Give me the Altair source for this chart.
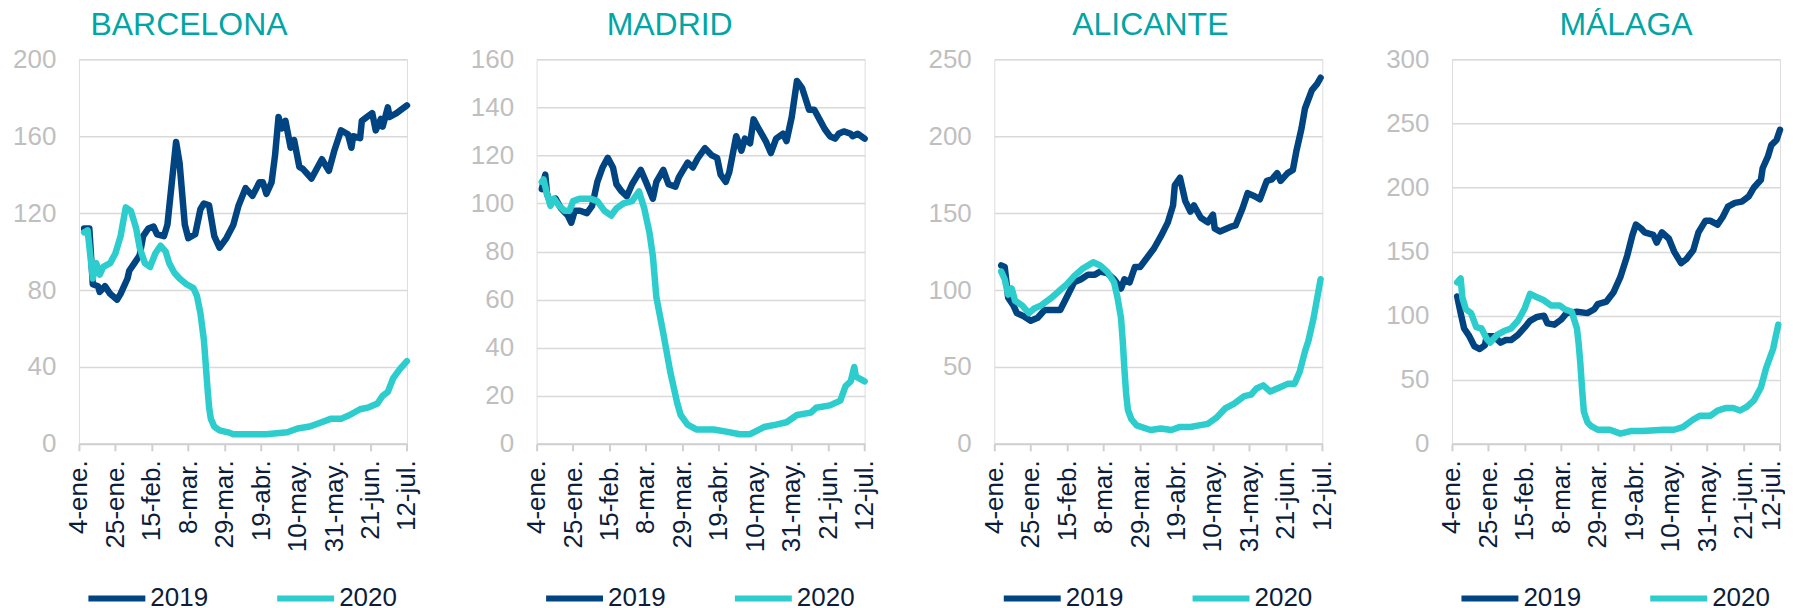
import json
import altair as alt
import pandas as pd

# ---------------- data ----------------
TICK_DAYS = [0, 21, 42, 63, 84, 105, 126, 147, 168, 189]
TICK_LABELS = ["4-ene.", "25-ene.", "15-feb.", "8-mar.", "29-mar.", "19-abr.",
               "10-may.", "31-may.", "21-jun.", "12-jul."]

CITIES = ["BARCELONA", "MADRID", "ALICANTE", "MÁLAGA"]
Y_MAX = [200, 160, 250, 300]
Y_STEP = [40, 20, 50, 50]
YEARS = ["2019", "2020"]

# (day since 4-ene., index value)
BCN_2019 = [(3,112),(6,112),(8,83),(11,82),(12,79),(15,82),(18,78),(22,75),(24,78),(28,86),(29,90),(32,94),
            (35,98),(37,108),(40,112),(43,113),(45,109),(49,108),(51,114),(54,140),(56,157),(58,146),(61,114),
            (63,107),(67,109),(70,122),(72,125),(75,124),(78,108),(81,102),(85,107),(89,114),(92,124),(96,133),
            (100,129),(104,136),(106,136),(108,130),(111,136),(113,150),(115,170),(117,164),(119,168),(122,154),
            (124,158),(127,144),(129,143),(134,138),(140,148),(144,142),(147,152),(151,163),(155,161),(157,154),
            (158,160),(162,159),(163,168),(166,170),(169,172),(171,163),(174,169),(175,165),(178,175),(179,170),
            (183,172),(189,176)]
BCN_2020 = [(3,110),(5,111),(8,86),(10,94),(12,88),(14,92),(18,94),(21,99),(24,108),(27,123),(30,121),(33,112),
            (35,102),(38,94),(41,92),(44,99),(47,103),(50,100),(52,94),(55,89),(58,86),(62,83),(66,81),(68,77),
            (70,68),(72,54),(73,42),(74,30),(75,19),(76,13),(78,9),(81,7),(86,6),(89,5),(101,5),(108,5),(120,6),
            (126,8),(133,9),(139,11),(145,13),(151,13),(156,15),(162,18),(167,19),(172,21),(175,25),(178,27),
            (181,34),(185,39),(189,43)]
MAD_2019 = [(3,106),(5,112),(6,104),(8,100),(11,102),(14,98),(18,95),(20,92),(22,97),(25,97),(29,96),(32,99),
            (35,109),(38,115),(41,119),(44,115),(46,108),(49,105),(52,103),(55,108),(60,114),(63,109),(67,102),
            (69,109),(73,114),(76,108),(80,107),(82,111),(87,117),(90,115),(93,119),(97,123),(101,120),(104,119),
            (106,112),(109,109),(111,113),(115,128),(118,122),(120,127),(123,125),(125,135),(128,131),(132,126),
            (135,121),(138,127),(142,129),(144,126),(147,136),(150,151),(153,148),(157,139),(160,139),(163,135),
            (166,131),(169,128),(172,127),(174,129),(177,130),(181,129),(182,128),(185,129),(189,127)]
MAD_2020 = [(3,109),(4,110),(6,104),(8,99),(10,102),(13,99),(16,97),(19,97),(21,101),(25,102),(31,102),(35,101),
            (39,97),(43,95),(46,98),(50,100),(55,101),(59,105),(62,98),(65,88),(67,78),(69,61),(73,46),(77,30),
            (81,17),(83,12),(87,8),(92,6),(102,6),(110,5),(117,4),(123,4),(131,7),(138,8),(144,9),(150,12),
            (158,13),(161,15),(169,16),(175,18),(178,24),(181,26),(183,32),(184,28),(189,26)]
ALI_2019 = [(4,116),(6,115),(8,95),(11,90),(13,85),(17,83),(21,80),(25,82),(29,87),(35,87),(38,87),(42,96),
            (46,105),(50,107),(54,110),(58,110),(61,112),(65,111),(69,107),(73,101),(75,107),(78,105),(81,115),
            (84,115),(88,121),(92,127),(96,135),(100,144),(103,155),(104,168),(107,173),(110,158),(113,151),
            (115,155),(119,147),(123,144),(126,149),(127,140),(130,138),(136,141),(139,142),(143,153),(146,163),
            (150,161),(153,159),(157,171),(160,172),(163,176),(165,171),(169,176),(172,178),(174,190),(177,205),
            (179,218),(183,230),(186,234),(188,238)]
ALI_2020 = [(4,112),(6,107),(8,97),(10,101),(12,93),(16,90),(20,85),(23,88),(27,90),(33,95),(38,100),(42,104),
            (46,109),(51,114),(57,118),(61,116),(65,112),(69,105),(71,95),(73,82),(74,67),(75,48),(76,32),(77,22),
            (79,16),(82,12),(90,9),(96,10),(102,9),(107,11),(113,11),(118,12),(123,13),(128,17),(133,23),(138,26),
            (144,31),(148,32),(151,36),(155,38),(159,34),(165,37),(169,39),(173,39),(176,47),(179,60),(181,67),
            (184,82),(188,107)]
MAL_2019 = [(3,115),(5,102),(7,90),(10,84),(13,76),(16,74),(19,77),(20,84),(24,84),(28,79),(31,81),(34,81),
            (38,85),(42,91),(45,96),(49,99),(53,100),(55,94),(59,93),(63,97),(66,102),(72,103),(78,102),(82,105),
            (84,109),(89,111),(93,118),(97,130),(101,147),(104,163),(106,171),(109,168),(111,165),(116,163),
            (118,157),(121,165),(125,160),(128,150),(132,141),(135,144),(139,151),(142,165),(146,174),(149,174),
            (153,171),(156,177),(159,185),(163,188),(167,189),(171,193),(174,200),(178,206),(179,215),(182,224),
            (184,233),(187,237),(189,245)]
MAL_2020 = [(3,126),(5,129),(6,114),(8,105),(11,102),(14,91),(17,90),(20,82),(22,79),(26,85),(30,88),(34,90),
            (38,96),(42,106),(45,117),(48,115),(53,112),(57,108),(62,108),(65,105),(69,103),(72,90),(73,78),
            (74,62),(75,42),(76,25),(78,17),(80,14),(84,11),(91,11),(97,8),(103,10),(110,10),(122,11),(128,11),
            (133,13),(139,19),(143,22),(149,22),(153,26),(158,28),(162,28),(166,26),(170,29),(174,34),(178,44),
            (181,59),(185,74),(188,93)]

SERIES = [(BCN_2019, BCN_2020), (MAD_2019, MAD_2020), (ALI_2019, ALI_2020), (MAL_2019, MAL_2020)]

# ---------------- style ----------------
FONT = "Liberation Sans"
NAVY = "#004481"
TEAL = "#2dcccd"
TITLE_COLOR = "#02a5a5"
TEXT_DARK = "#0b1d3a"
GRID = "#d9d9d9"
YLAB = "#bfbfbf"
TITLE_DX = [-54, -31, -8, 10]

PANEL_W = 328.4
PANEL_H = 385

label_expr = json.dumps(TICK_LABELS) + "[round(datum.value / 21)]"


def panel(i):
    rows = []
    for year, pts in zip(YEARS, SERIES[i]):
        for d, v in pts:
            rows.append({"day": d, "value": v, "year": year})
    df = pd.DataFrame(rows)
    title = alt.TitleParams(CITIES[i], dx=TITLE_DX[i], frame="group", anchor="middle",
                            fontSize=32, color=TITLE_COLOR, font=FONT, fontWeight="normal",
                            offset=4)
    # keep the very last label of the last panel inside the page width
    if i == 3:
        label_offset = {"condition": {"test": "datum.value >= 189", "value": -9}, "value": 0}
    else:
        label_offset = 0
    return alt.Chart(df, title=title).mark_line(
        strokeWidth=6.5, strokeCap="round", strokeJoin="round"
    ).encode(
        x=alt.X("day:Q", title=None,
                scale=alt.Scale(domain=[0, 189], nice=False, zero=False),
                axis=alt.Axis(values=TICK_DAYS, labelExpr=label_expr, labelAngle=270,
                              grid=False, domainColor="#d0d0d0", domainWidth=2,
                              tickColor="#d0d0d0", tickWidth=2, tickSize=7,
                              labelPadding=9, labelFontSize=26, labelColor=TEXT_DARK,
                              labelFont=FONT, labelOverlap=False, labelFlush=False,
                              labelBound=False, labelOffset=label_offset)),
        y=alt.Y("value:Q", title=None,
                scale=alt.Scale(domain=[0, Y_MAX[i]], nice=False),
                axis=alt.Axis(values=list(range(0, Y_MAX[i] + 1, Y_STEP[i])),
                              domain=False, ticks=False, tickSize=0, labelPadding=23,
                              labelFontSize=26, labelColor=YLAB, labelFont=FONT,
                              gridColor=GRID, gridWidth=1.5, labelOverlap=False)),
        color=alt.Color("year:N",
                        scale=alt.Scale(domain=YEARS, range=[NAVY, TEAL]),
                        legend=alt.Legend(orient="none", legendX=6.5, legendY=508,
                                          direction="horizontal", title=None,
                                          symbolType="stroke", symbolSize=3249,
                                          symbolStrokeWidth=6, labelFontSize=26,
                                          labelColor=TEXT_DARK, labelFont=FONT,
                                          labelOffset=2, columnPadding=57, padding=0)),
    ).properties(width=PANEL_W, height=PANEL_H)


chart = alt.hconcat(*[panel(i) for i in range(4)], spacing=129.2, bounds="flush").resolve_scale(
    color="independent"
).resolve_legend(color="independent").properties(
    padding={"left": 4, "top": 0, "right": 0, "bottom": 0}
).configure_view(stroke=None).configure(background="white")

chart.save("out.html", embed_options={"renderer": "svg", "actions": False})
